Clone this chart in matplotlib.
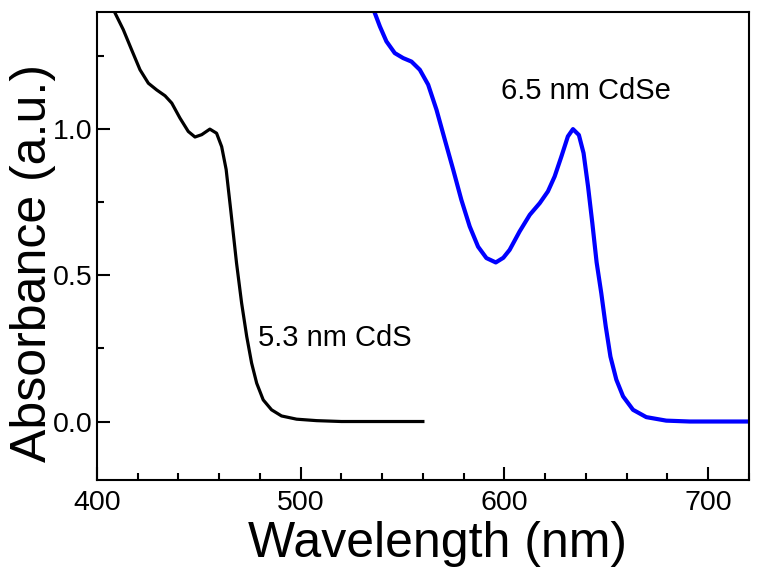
import matplotlib
matplotlib.use("Agg")
import matplotlib.pyplot as plt
from matplotlib.ticker import MultipleLocator, FormatStrFormatter

plt.rcParams["font.family"] = ["Liberation Sans", "DejaVu Sans"]

# CdS 5.3 nm absorption (black)
cds_wl = [408.5, 412.9, 417.0, 421.1, 425.2, 429.3, 433.4, 436.7, 440.7, 444.8, 448.1,
          451.4, 455.4, 458.7, 461.2, 463.4, 465.7, 468.5, 471.0, 473.5, 475.9, 478.4,
          481.6, 485.7, 490.6, 498.0, 507.8, 520, 540, 560]
cds_abs = [1.402, 1.340, 1.271, 1.203, 1.157, 1.134, 1.114, 1.089, 1.038, 0.992, 0.973,
           0.981, 1.000, 0.986, 0.940, 0.862, 0.720, 0.542, 0.405, 0.291, 0.200, 0.131,
           0.074, 0.040, 0.019, 0.008, 0.003, 0.0, 0.0, 0.0]

# CdSe 6.5 nm absorption (blue)
cdse_wl = [536.4, 538.9, 542.1, 546.2, 550.3, 554.4, 558.5, 562.6, 566.7, 570.8, 574.9,
           578.9, 583.0, 587.1, 591.2, 595.8, 599.5, 602.6, 607.5, 612.5, 617.4, 621.4,
           624.7, 628.0, 631.2, 633.7, 636.6, 638.9, 641.1, 643.2, 645.3, 647.6, 649.8,
           652.1, 655.0, 658.3, 663.2, 669.7, 679.5, 691, 705, 720]
cdse_abs = [1.397, 1.351, 1.300, 1.260, 1.243, 1.231, 1.203, 1.152, 1.066, 0.963, 0.861,
            0.758, 0.667, 0.598, 0.559, 0.544, 0.560, 0.587, 0.650, 0.707, 0.747, 0.787,
            0.838, 0.906, 0.975, 1.000, 0.980, 0.918, 0.804, 0.679, 0.545, 0.439, 0.325,
            0.222, 0.143, 0.086, 0.040, 0.015, 0.003, 0.0, 0.0, 0.0]

fig = plt.figure(figsize=(7.64, 5.79), dpi=100)
ax = fig.add_axes([0.127, 0.171, 0.853, 0.808])

ax.plot(cds_wl, cds_abs, color="black", lw=2.3, solid_joinstyle="round")
ax.plot(cdse_wl, cdse_abs, color="#0000ff", lw=3.0, solid_joinstyle="round")

ax.text(479, 0.286, "5.3 nm CdS", fontsize=21, va="center", ha="left")
ax.text(598.5, 1.129, "6.5 nm CdSe", fontsize=21, va="center", ha="left")

ax.set_xlim(400, 720)
ax.set_ylim(-0.2, 1.4)
ax.xaxis.set_major_locator(MultipleLocator(100))
ax.xaxis.set_minor_locator(MultipleLocator(20))
ax.yaxis.set_major_locator(MultipleLocator(0.5))
ax.yaxis.set_minor_locator(MultipleLocator(0.25))
ax.yaxis.set_major_formatter(FormatStrFormatter("%.1f"))

ax.tick_params(which="both", direction="in", width=1.5, labelsize=20.5)
ax.tick_params(which="major", length=9.5)
ax.tick_params(which="minor", length=5)
ax.tick_params(axis="x", pad=7)
ax.tick_params(axis="y", pad=3)
for s in ax.spines.values():
    s.set_linewidth(1.5)

ax.set_xlabel("Wavelength (nm)", fontsize=36, labelpad=4)
ax.set_ylabel("Absorbance (a.u.)", fontsize=36, labelpad=-2)
ax.xaxis.label.set_x(0.523)
ax.yaxis.label.set_y(0.464)

fig.savefig("out.png", dpi=100)
